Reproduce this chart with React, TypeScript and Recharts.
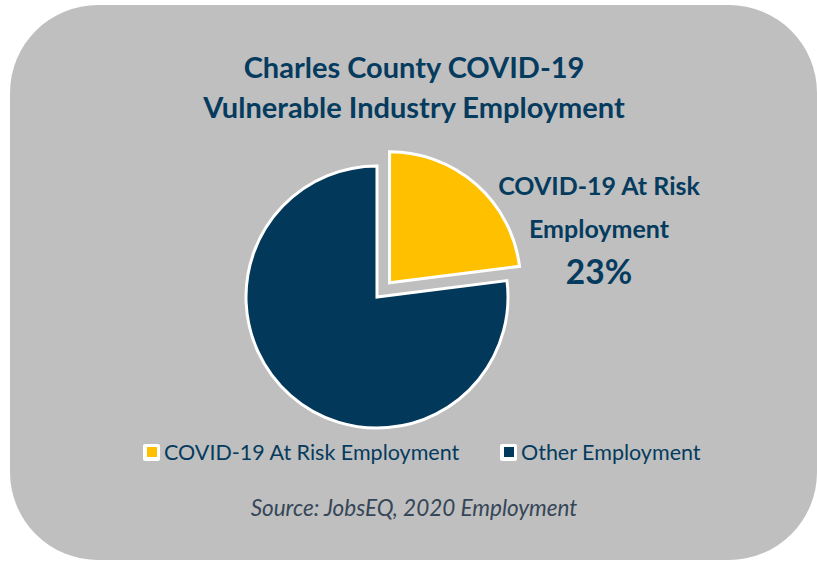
import React from 'react';
import { PieChart, Pie, Cell } from 'recharts';

const categories = ['COVID-19 At Risk Employment', 'Other Employment'];
const shares = [23, 77];
const colors = ['#FFC000', '#02395B'];

const titleLines = ['Charles County COVID-19', 'Vulnerable Industry Employment'];
const calloutLines = ['COVID-19 At Risk', 'Employment'];
const sourceText = 'Source: JobsEQ, 2020 Employment';

const data = categories.map((name, i) => ({ name, value: shares[i] }));
const total = shares.reduce((a, b) => a + b, 0);
const pct = Math.round((shares[0] / total) * 100);

const FONT = 'Lato, "Open Sans", sans-serif';
const NAVY = '#053B5E';

const CX = 377;
const CY = 297;
const R = 131;
const EXPLODE = 19;
const midDeg = 90 - ((shares[0] / total) * 360) / 2;
const dx = EXPLODE * Math.cos((midDeg * Math.PI) / 180);
const dy = -EXPLODE * Math.sin((midDeg * Math.PI) / 180);

const LegendItem = ({ color, label, x }: { color: string; label: string; x: number }) => (
  <div style={{ position: 'absolute', left: x, top: 440, height: 24, display: 'flex', alignItems: 'center' }}>
    <div style={{ width: 17, height: 17, background: '#fff', borderRadius: 2, display: 'flex', alignItems: 'center', justifyContent: 'center' }}>
      <div style={{ width: 10, height: 10, background: color }} />
    </div>
    <span style={{ marginLeft: 4, fontFamily: FONT, fontSize: 21.5, color: NAVY, whiteSpace: 'nowrap', lineHeight: '24px' }}>{label}</span>
  </div>
);

export default function App() {
  return (
    <div style={{ position: 'absolute', left: 0, top: 0, width: 817, height: 561, background: '#fff', overflow: 'hidden' }}>
      <div style={{ position: 'absolute', left: 10, top: 5, width: 807, height: 555, background: '#BFBFBF', borderRadius: 88 }} />
      <div style={{ position: 'absolute', left: 0, top: 0 }}>
        <PieChart width={817} height={561} margin={{ top: 0, right: 0, bottom: 0, left: 0 }}>
          <Pie data={data} dataKey="value" cx={CX} cy={CY} outerRadius={R} startAngle={90} endAngle={-270} isAnimationActive={false} strokeWidth={3}>
            {data.map((d, i) => (
              <Cell key={d.name} fill={i === 0 ? 'none' : colors[i]} stroke={i === 0 ? 'none' : '#fff'} />
            ))}
          </Pie>
          <Pie data={data} dataKey="value" cx={CX + dx} cy={CY + dy} outerRadius={R} startAngle={90} endAngle={-270} isAnimationActive={false} strokeWidth={3}>
            {data.map((d, i) => (
              <Cell key={d.name} fill={i === 0 ? colors[i] : 'none'} stroke={i === 0 ? '#fff' : 'none'} />
            ))}
          </Pie>
        </PieChart>
      </div>
      {titleLines.map((t, i) => (
        <div key={t} style={{ position: 'absolute', left: 114, width: 600, top: 48 + i * 40, textAlign: 'center', fontFamily: FONT, fontWeight: 700, fontSize: 29, lineHeight: '38px', color: NAVY, whiteSpace: 'nowrap' }}>{t}</div>
      ))}
      {calloutLines.map((t, i) => (
        <div key={t} style={{ position: 'absolute', left: 449, width: 300, top: 169 + i * 43, textAlign: 'center', fontFamily: FONT, fontWeight: 700, fontSize: 25, lineHeight: '32px', color: NAVY, whiteSpace: 'nowrap' }}>{t}</div>
      ))}
      <div style={{ position: 'absolute', left: 449, width: 300, top: 251, textAlign: 'center', fontFamily: FONT, fontWeight: 700, fontSize: 33.5, lineHeight: '40px', color: NAVY }}>{pct}%</div>
      <LegendItem color={colors[0]} label={categories[0]} x={143} />
      <LegendItem color={colors[1]} label={categories[1]} x={500} />
      <div style={{ position: 'absolute', left: 114, width: 600, top: 494, textAlign: 'center', fontFamily: FONT, fontStyle: 'italic', fontSize: 22.5, lineHeight: '28px', color: '#354658', whiteSpace: 'nowrap' }}>{sourceText}</div>
    </div>
  );
}
